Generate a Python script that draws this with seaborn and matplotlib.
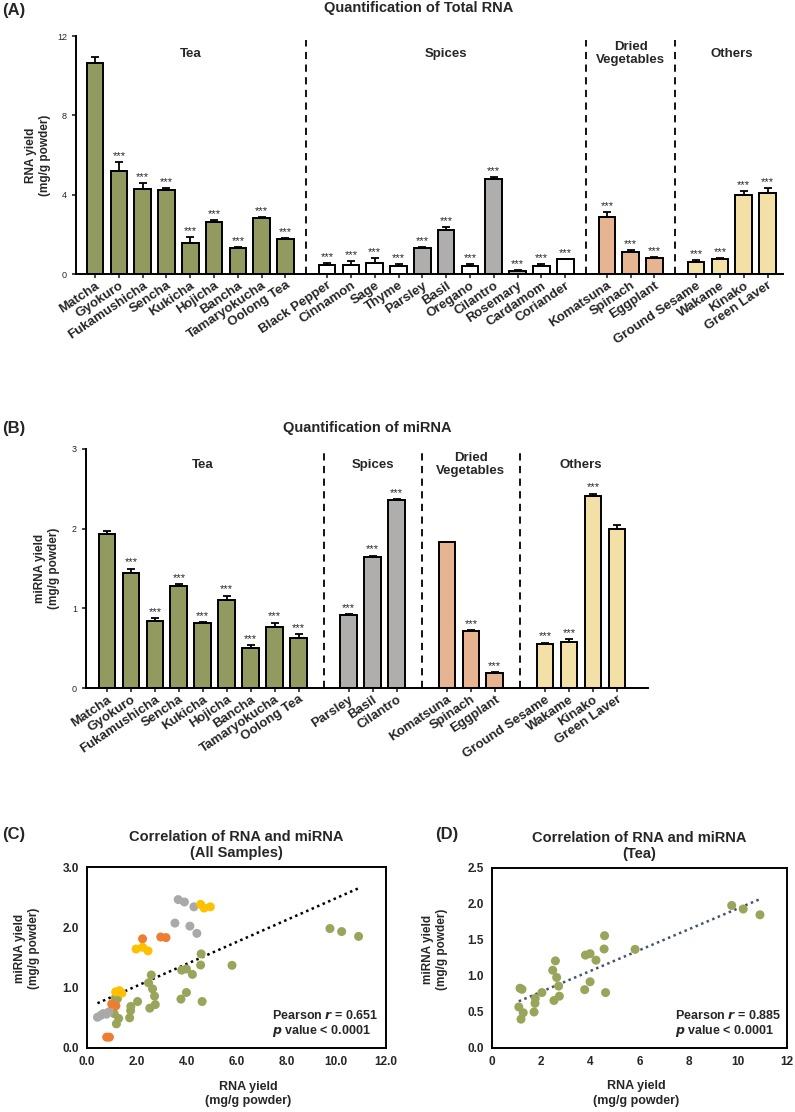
import numpy as np
import pandas as pd
import seaborn as sns
import matplotlib.pyplot as plt

sns.set_style('white')
plt.rcParams['font.family'] = ['Liberation Sans', 'DejaVu Sans']
NARROW = ['Liberation Sans Narrow', 'Liberation Sans', 'DejaVu Sans']

# ---------------- data ----------------
tea_names = ['Matcha', 'Gyokuro', 'Fukamushicha', 'Sencha', 'Kukicha', 'Hojicha',
             'Bancha', 'Tamaryokucha', 'Oolong Tea']
spice_names = ['Black Pepper', 'Cinnamon', 'Sage', 'Thyme', 'Parsley', 'Basil',
               'Oregano', 'Cilantro', 'Rosemary', 'Cardamom', 'Coriander']
spice_grey = [False, False, False, False, True, True, False, True, True, False, False]
veg_names = ['Komatsuna', 'Spinach', 'Eggplant']
other_names = ['Ground Sesame', 'Wakame', 'Kinako', 'Green Laver']

rna_tea = [10.62, 5.19, 4.30, 4.22, 1.58, 2.64, 1.31, 2.82, 1.76]
rna_tea_err = [0.34, 0.44, 0.29, 0.12, 0.29, 0.07, 0.07, 0.04, 0.03]
rna_spice = [0.47, 0.44, 0.57, 0.40, 1.29, 2.20, 0.42, 4.77, 0.15, 0.39, 0.74]
rna_spice_err = [0.07, 0.20, 0.22, 0.08, 0.09, 0.15, 0.07, 0.12, 0.07, 0.10, 0.02]
rna_veg = [2.86, 1.11, 0.81]
rna_veg_err = [0.27, 0.08, 0.03]
rna_other = [0.61, 0.76, 4.00, 4.10]
rna_other_err = [0.08, 0.06, 0.17, 0.25]

mi_spice_names = ['Parsley', 'Basil', 'Cilantro']
mi_tea = [1.93, 1.44, 0.84, 1.28, 0.82, 1.10, 0.50, 0.76, 0.63]
mi_tea_err = [0.04, 0.06, 0.04, 0.02, 0.01, 0.06, 0.04, 0.06, 0.05]
mi_spice = [0.92, 1.65, 2.36]
mi_spice_err = [0.01, 0.01, 0.01]
mi_veg = [1.83, 0.72, 0.19]
mi_veg_err = [0.005, 0.01, 0.005]
mi_other = [0.55, 0.58, 2.41, 2.00]
mi_other_err = [0.02, 0.03, 0.03, 0.04]
mi_tea_star = [False] + [True] * 8
mi_veg_star = [False, True, True]
mi_other_star = [True, True, True, False]

# scatter (replicates)
tea_rna = [1.14, 1.22, 1.09, 1.27, 1.18, 1.71, 1.75, 1.76, 2.03, 2.47, 2.58, 2.63, 2.71, 2.52,
           2.74, 3.80, 3.99, 4.23, 3.99, 3.77, 4.58, 4.56, 4.62, 5.82, 9.75, 10.22, 10.90]
tea_mi = [0.83, 0.815, 0.57, 0.49, 0.40, 0.50, 0.62, 0.69, 0.77, 1.08, 1.21, 0.98, 0.86, 0.66,
          0.72, 1.29, 1.31, 1.22, 0.92, 0.81, 1.56, 1.375, 0.77, 1.37, 1.98, 1.93, 1.85]
spice_rna = [3.66, 3.91, 4.29, 3.53, 4.13, 4.41, 0.42, 0.55, 0.65, 0.78, 0.88]
spice_mi = [2.46, 2.42, 2.34, 2.07, 2.02, 1.90, 0.51, 0.54, 0.57, 0.56, 0.60]
veg_rna = [2.23, 2.96, 3.17, 0.99, 1.16, 0.79, 0.90]
veg_mi = [1.81, 1.84, 1.83, 0.73, 0.70, 0.18, 0.18]
other_rna = [1.97, 2.23, 2.45, 4.56, 4.70, 4.95, 1.15, 1.30, 1.40]
other_mi = [1.64, 1.67, 1.61, 2.38, 2.32, 2.34, 0.93, 0.95, 0.91]

C_TEA, C_GREY, C_VEG, C_OTHER = '#9aa456', '#b1aeac', '#f4b183', '#ffe699'
S_TEA, S_GREY, S_VEG, S_OTHER = '#9aa45a', '#a9a9a9', '#ed7d31', '#ffc000'

W, H = 795, 1112
fig = plt.figure(figsize=(W / 100, H / 100), dpi=100)


def px_axes(l, t, r, b):
    return fig.add_axes([l / W, 1 - b / H, (r - l) / W, (b - t) / H])


def bar_panel(ax, groups, gap, ymax, yticks, group_labels, label_y, star_pad):
    rows = []
    start = 0.0
    centers, dividers = [], []
    for gi, (names, vals, errs, stars, colors) in enumerate(groups):
        pos = start + np.arange(len(names))
        centers.append(pos.mean())
        for n, p, v, e, s, c in zip(names, pos, vals, errs, stars, colors):
            rows.append(dict(name=n, pos=p, val=v, err=e, star=s, color=c))
        if gi < len(groups) - 1:
            dividers.append(pos[-1] + gap / 2)
        start = pos[-1] + gap
    df = pd.DataFrame(rows)
    sns.barplot(data=df, x='pos', y='val', hue='pos', palette=dict(zip(df['pos'], df['color'])),
                native_scale=True, dodge=False, width=0.7, legend=False,
                edgecolor='black', linewidth=1.4, errorbar=None, ax=ax)
    ax.errorbar(df['pos'], df['val'], yerr=[np.zeros(len(df)), df['err']], fmt='none',
                ecolor='black', elinewidth=1.3, capsize=3, capthick=1.3, zorder=4)
    for _, r in df[df['star']].iterrows():
        ax.text(r['pos'], r['val'] + r['err'] + star_pad, '***', ha='center', va='bottom',
                fontsize=8)
    for d in dividers:
        ax.axvline(d, ymin=0, ymax=0.985, color='black', ls=(0, (4, 3)), lw=1.3)
    for c, lab in zip(centers, group_labels):
        ax.text(c, label_y, lab, ha='center', va='center', fontsize=9.5, fontweight='bold',
                linespacing=1.1)
    ax.set_ylim(0, ymax)
    ax.set_yticks(yticks)
    ax.set_xticks(df['pos'])
    ax.set_xticklabels(df['name'], rotation=34, ha='right', rotation_mode='anchor',
                       fontsize=9.5, fontweight='bold')
    ax.tick_params(axis='y', labelsize=6.5, length=3, width=1.2, direction='out', left=True)
    ax.tick_params(axis='x', length=3, width=1.2, direction='out', bottom=True, pad=1)
    for s in ['top', 'right']:
        ax.spines[s].set_visible(False)
    for s in ['left', 'bottom']:
        ax.spines[s].set_linewidth(1.4)
        ax.spines[s].set_color('black')
    ax.set_xlabel('')
    return df


# ---------------- (A) ----------------
axA = px_axes(76, 36, 783, 274)
spice_cols = [C_GREY if g else 'white' for g in spice_grey]
groupsA = [
    (tea_names, rna_tea, rna_tea_err, [False] + [True] * 8, [C_TEA] * 9),
    (spice_names, rna_spice, rna_spice_err, [True] * 11, spice_cols),
    (veg_names, rna_veg, rna_veg_err, [True] * 3, [C_VEG] * 3),
    (other_names, rna_other, rna_other_err, [True] * 4, [C_OTHER] * 4),
]
bar_panel(axA, groupsA, 1.75, 12, [0, 4, 8, 12],
          ['Tea', 'Spices', 'Dried\nVegetables', 'Others'], 11.1, 0.05)
axA.set_xlim(-0.8, 28.9)
axA.set_ylabel('RNA yield\n(mg/g powder)', fontsize=8.5, fontweight='bold')
axA.yaxis.set_label_coords(-0.035, 0.5)
fig.text(419 / W, 1 - 8 / H, 'Quantification of Total RNA', ha='center', va='center',
         fontsize=10.5, fontweight='bold')
fig.text(2 / W, 1 - 10 / H, '(A)', ha='left', va='center', fontsize=12, fontweight='bold')

# ---------------- (B) ----------------
axB = px_axes(86, 449, 648, 688)
groupsB = [
    (tea_names, mi_tea, mi_tea_err, mi_tea_star, [C_TEA] * 9),
    (mi_spice_names, mi_spice, mi_spice_err, [True] * 3, [C_GREY] * 3),
    (veg_names, mi_veg, mi_veg_err, mi_veg_star, [C_VEG] * 3),
    (other_names, mi_other, mi_other_err, mi_other_star, [C_OTHER] * 4),
]
bar_panel(axB, groupsB, 2.1, 3, [0, 1, 2, 3],
          ['Tea', 'Spices', 'Dried\nVegetables', 'Others'], 2.8, 0.015)
axB.set_xlim(-0.88, 22.6)
axB.set_ylabel('miRNA yield\n(mg/g powder)', fontsize=8.5, fontweight='bold')
axB.yaxis.set_label_coords(-0.046, 0.5)
fig.text(367 / W, 1 - 428 / H, 'Quantification of miRNA', ha='center', va='center',
         fontsize=10.5, fontweight='bold')
fig.text(2 / W, 1 - 428 / H, '(B)', ha='left', va='center', fontsize=12, fontweight='bold')


# ---------------- scatter panels ----------------
def scatter_panel(ax, df, palette, line_color, ylim, yticks, yticklabels, xticks, xticklabels,
                  title, stat):
    sns.regplot(data=df, x='rna', y='mi', scatter=False, ci=None, ax=ax,
                line_kws=dict(color=line_color, ls=(0, (1, 1.4)), lw=1.8))
    sns.scatterplot(data=df, x='rna', y='mi', hue='group', palette=palette, s=42,
                    edgecolor='none', legend=False, ax=ax, zorder=3)
    ax.set_xlim(0, 12)
    ax.set_ylim(*ylim)
    ax.set_xticks(xticks)
    ax.set_yticks(yticks)
    ax.set_xticklabels(xticklabels, fontsize=8.5, fontweight='bold', family=NARROW)
    ax.set_yticklabels(yticklabels, fontsize=8.5, fontweight='bold', family=NARROW)
    ax.tick_params(length=0, pad=6)
    for s in ax.spines.values():
        s.set_linewidth(1.4)
        s.set_color('black')
    ax.set_title(title, fontsize=10.5, fontweight='bold', pad=7, linespacing=1.25)
    ax.set_xlabel('RNA yield\n(mg/g powder)', fontsize=9, fontweight='bold', family=NARROW,
                  linespacing=1.3)
    ax.set_ylabel('miRNA yield\n(mg/g powder)', fontsize=8.5, fontweight='bold')
    ax.text(0.62, 0.18, 'Pearson $\\mathbfit{r}$ = ' + stat, transform=ax.transAxes,
            fontsize=9, fontweight='bold', family=NARROW, va='center')
    ax.text(0.62, 0.095, '$\\mathbfit{p}$ value < 0.0001', transform=ax.transAxes,
            fontsize=9, fontweight='bold', family=NARROW, va='center')


dfC = pd.DataFrame({
    'rna': tea_rna + spice_rna + veg_rna + other_rna,
    'mi': tea_mi + spice_mi + veg_mi + other_mi,
    'group': ['Tea'] * len(tea_rna) + ['Spices'] * len(spice_rna)
             + ['Veg'] * len(veg_rna) + ['Others'] * len(other_rna),
})
axC = px_axes(87, 867, 386, 1048)
scatter_panel(axC, dfC, {'Tea': S_TEA, 'Spices': S_GREY, 'Veg': S_VEG, 'Others': S_OTHER},
              'black', (0, 3), [0, 1, 2, 3], ['0.0', '1.0', '2.0', '3.0'],
              [0, 2, 4, 6, 8, 10, 12], ['0.0', '2.0', '4.0', '6.0', '8.0', '10.0', '12.0'],
              'Correlation of RNA and miRNA\n(All Samples)', '0.651')
axC.yaxis.set_label_coords(-0.157, 0.55)
axC.xaxis.set_label_coords(0.54, -0.18)
fig.text(2 / W, 1 - 835 / H, '(C)', ha='left', va='center', fontsize=12, fontweight='bold')

dfD = pd.DataFrame({'rna': tea_rna, 'mi': tea_mi, 'group': ['Tea'] * len(tea_rna)})
axD = px_axes(492, 868, 787, 1048)
scatter_panel(axD, dfD, {'Tea': S_TEA}, '#44546a', (0, 2.5), [0, 0.5, 1, 1.5, 2, 2.5],
              ['0.0', '0.5', '1.0', '1.5', '2.0', '2.5'],
              [0, 2, 4, 6, 8, 10, 12], ['0', '2', '4', '6', '8', '10', '12'],
              'Correlation of RNA and miRNA\n(Tea)', '0.885')
axD.yaxis.set_label_coords(-0.149, 0.55)
axD.xaxis.set_label_coords(0.49, -0.18)
fig.text(435 / W, 1 - 835 / H, '(D)', ha='left', va='center', fontsize=12, fontweight='bold')

fig.savefig('out.png', dpi=100)
